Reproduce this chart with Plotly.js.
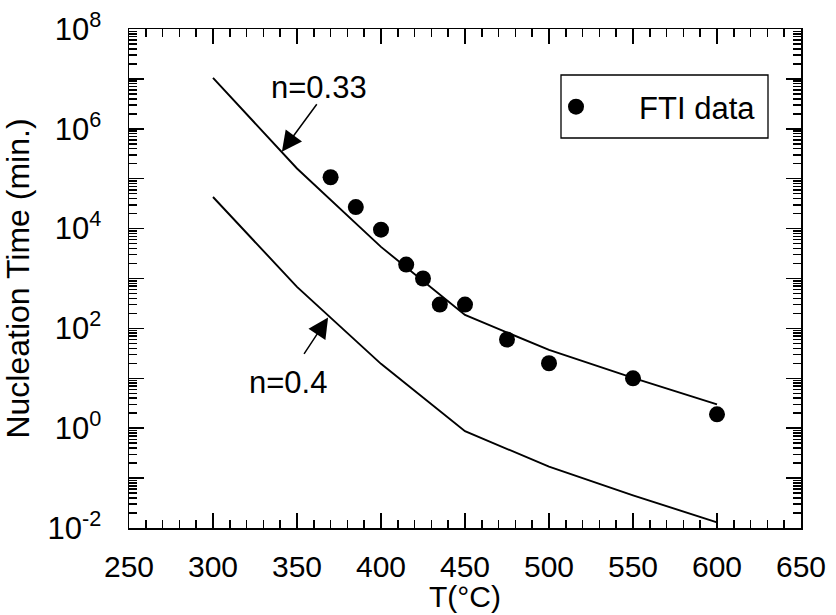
<!DOCTYPE html>
<html>
<head>
<meta charset="utf-8">
<script src="https://cdn.plot.ly/plotly-3.0.1.min.js"></script>
<style>html,body{margin:0;padding:0;background:#fff;}#chart{width:836px;height:615px;}</style>
</head>
<body>
<div id="chart"></div>
<script>
// Model curves (temperature in °C, nucleation time in min.)
const curveT = [300, 350, 400, 450, 500, 550, 600];
const n033Time = [1.05e7, 1.6e5, 4.3e3, 186, 37, 10.2, 3.0];
const n04Time = [4.3e4, 680, 19.5, 0.87, 0.17, 0.045, 0.013];

// FTI data
const ftiT = [370, 385, 400, 415, 425, 435, 450, 475, 500, 550, 600];
const ftiTime = [1.07e5, 2.7e4, 9.5e3, 1.9e3, 1.0e3, 300, 300, 60, 20, 10, 1.9];

// Axis ticks
const yTickExp = [-2, -1, 0, 1, 2, 3, 4, 5, 6, 7, 8];
const yMinorMult = [2, 3, 4, 5, 6, 7, 8, 9];
const yTickVals = yTickExp.map(e => Math.pow(10, e));
const yTickText = yTickExp.map(e => (e % 2 === 0) ? '10<sup>' + e + '</sup>' : '');
const yMinorVals = [];
yTickExp.slice(0, -1).forEach(e => yMinorMult.forEach(m => yMinorVals.push(m * Math.pow(10, e))));

const FONT = 'Liberation Sans, Arial, Helvetica, sans-serif';
const FS = 31;
const MINOR = 8;

const traces = [
  {x: curveT, y: n033Time, mode: 'lines', line: {color: '#000', width: 1.9}, showlegend: false, hoverinfo: 'skip'},
  {x: curveT, y: n04Time, mode: 'lines', line: {color: '#000', width: 1.9}, showlegend: false, hoverinfo: 'skip'},
  {x: ftiT, y: ftiTime, mode: 'markers', name: '\u00a0\u00a0\u00a0\u00a0\u00a0FTI data',
   marker: {color: '#000', size: 16, symbol: 'circle'}, showlegend: true}
];

const layout = {
  width: 836, height: 615,
  margin: {l: 129, r: 35, t: 29, b: 87},
  paper_bgcolor: '#fff', plot_bgcolor: '#fff',
  font: {family: FONT, size: FS, color: '#000'},
  showlegend: true,
  legend: {x: (556 - 129) / 672, y: (528 - 80) / 499, xanchor: 'left', yanchor: 'top', borderwidth: 0,
           bgcolor: 'rgba(0,0,0,0)', font: {size: FS}},
  xaxis: {
    type: 'linear', range: [250, 650], tickmode: 'linear', tick0: 250, dtick: 50,
    ticks: 'inside', ticklen: 15, tickwidth: 1.5, tickcolor: '#000',
    minor: {ticks: 'inside', ticklen: MINOR, tickwidth: 1.5, tickcolor: '#000', tickmode: 'linear', tick0: 250, dtick: 10, showgrid: false},
    showline: true, linecolor: '#000', linewidth: 1.5, mirror: 'ticks',
    showgrid: false, zeroline: false,
    ticklabelstandoff: 11,
    tickfont: {size: 30}
  },
  yaxis: {
    type: 'log', range: [-2, 8], tickmode: 'array', tickvals: yTickVals, ticktext: yTickText,
    ticks: 'inside', ticklen: 15, tickwidth: 1.5, tickcolor: '#000',
    minor: {ticks: 'inside', ticklen: MINOR, tickwidth: 1.5, tickcolor: '#000', tickmode: 'array', tickvals: yMinorVals, showgrid: false},
    showline: true, linecolor: '#000', linewidth: 1.5, mirror: 'ticks',
    showgrid: false, zeroline: false,
    ticklabelstandoff: 20,
    tickfont: {size: FS},
    title: {text: 'Nucleation Time (min.)', font: {size: 32}, standoff: 8}
  },
  shapes: [
    {type: 'rect', xref: 'paper', yref: 'paper',
     x0: (561 - 129) / 672, x1: (768 - 129) / 672, y0: (528 - 138) / 499, y1: (528 - 75) / 499,
     line: {color: '#000', width: 1.3}, fillcolor: 'rgba(0,0,0,0)', layer: 'above'}
  ],
  annotations: [
    {x: 0.5, y: (528 - 614) / 499, xref: 'paper', yref: 'paper', text: 'T(°C)', showarrow: false,
     font: {size: 30}, xanchor: 'center', yanchor: 'bottom', borderpad: 0},
    {x: 341, y: 5.54, xref: 'x', yref: 'y', text: '', showarrow: true, ax: 36, ay: -49,
     arrowhead: 2, arrowsize: 2.7, arrowwidth: 1.5, arrowcolor: '#000', font: {size: 1}},
    {x: 363, y: 8 - (87 - 29) / 49.9, xref: 'x', yref: 'y', text: 'n=0.33', showarrow: false,
     font: {size: FS}, xanchor: 'center', yanchor: 'middle'},
    {x: 368.5, y: 2.22, xref: 'x', yref: 'y', text: '', showarrow: true, ax: -25, ay: 38,
     arrowhead: 2, arrowsize: 2.7, arrowwidth: 1.5, arrowcolor: '#000', font: {size: 1}},
    {x: 250 + (288 - 129) / 1.68, y: 8 - (382 - 29) / 49.9, xref: 'x', yref: 'y', text: 'n=0.4', showarrow: false,
     font: {size: FS}, xanchor: 'center', yanchor: 'middle'}
  ]
};

Plotly.newPlot('chart', traces, layout, {displayModeBar: false, staticPlot: true});
</script>
</body>
</html>
